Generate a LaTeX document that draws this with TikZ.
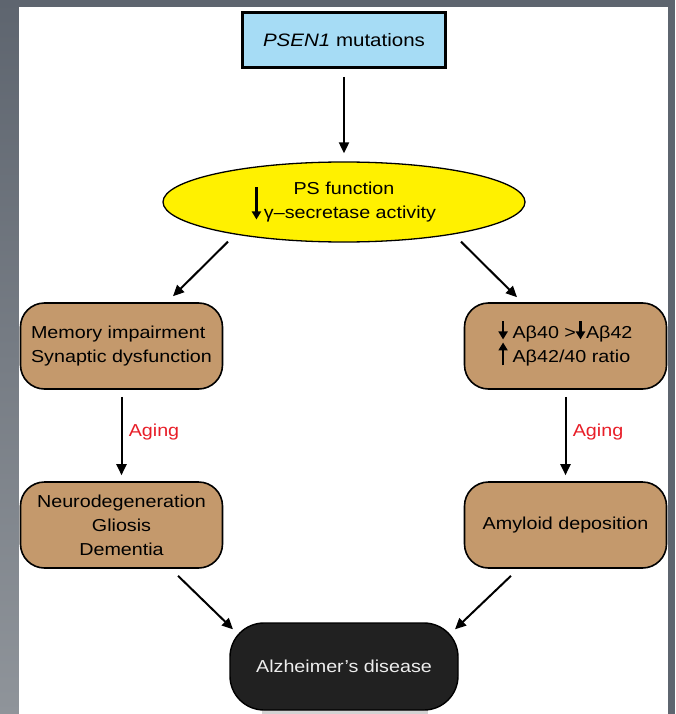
\documentclass[tikz,border=0pt]{standalone}
\usepackage{fontspec}
\setmainfont{Liberation Sans}[FakeStretch=1.14]
\usetikzlibrary{shapes.geometric,arrows.meta}
\definecolor{skyb}{RGB}{166,220,245}
\definecolor{psyellow}{RGB}{255,241,0}
\definecolor{boxtan}{RGB}{196,153,108}
\definecolor{agingred}{RGB}{232,30,40}
\definecolor{slate}{RGB}{94,101,111}
\definecolor{slatelight}{RGB}{143,148,154}
\definecolor{adblack}{RGB}{33,33,33}

% little arrows used inside the texts
\newcommand{\dnarr}[1]{\smash{\tikz[baseline=0pt] \draw [line width=2.2pt,-{Triangle[length=8pt,width=9pt]}] (0pt,#1) -- (0pt,-1pt);}}
\newcommand{\uparr}[1]{\smash{\tikz[baseline=0pt] \draw [line width=2.2pt,-{Triangle[length=8pt,width=9pt]}] (0pt,-3pt) -- (0pt,#1);}}

\begin{document}
\begin{tikzpicture}[x=1pt,y=-1pt,
  every node/.style={font=\fontsize{17.3}{24}\selectfont},
  arr/.style={line width=2pt,-{Triangle[length=11pt,width=10pt]}},
  brownbox/.style={draw,line width=1.6pt,fill=boxtan,rounded corners=24pt,
    minimum width=202pt,minimum height=86pt,inner sep=0pt},
  agetext/.style={text=agingred}]

% background
\fill [slate] (0,0) rectangle (675,714);
\shade [top color=slate,bottom color=slatelight] (0,0) rectangle (19,714);
\fill [white] (19,7) rectangle (668,714);

\node [draw,line width=2.6pt,fill=skyb,minimum width=203pt,minimum height=55pt,
  font=\fontsize{18}{24}\selectfont] (psen) at (344,40) {\textit{PSEN1} mutations};

\node [ellipse,draw,line width=1.3pt,fill=psyellow,minimum width=362pt,
  minimum height=80pt,inner sep=0pt,align=center] (psfun) at (344,202)
  {PS function\\\dnarr{31pt}\hspace{3pt}γ–secretase activity};

\node [brownbox,align=left] (memory) at (121.5,346) {Memory impairment\\Synaptic dysfunction};
\node [brownbox,align=left] (abeta) at (565.5,346)
  {\dnarr{17pt}\hspace{5pt}Aβ40 >\dnarr{17pt}\hspace{1pt}Aβ42\\\uparr{20pt}\hspace{5pt}Aβ42/40 ratio};
\node [brownbox,align=center] (neuro) at (121.5,525) {Neurodegeneration\\Gliosis\\Dementia};
\node [brownbox] (amyloid) at (565.5,525) {Amyloid deposition};

\fill [gray!35] (262,706) rectangle (428,714);
\node [draw,line width=1.4pt,fill=adblack,text=white!93!black,rounded corners=34pt,
  minimum width=228pt,minimum height=87pt] (alz) at (344,666.5) {Alzheimer’s disease};

\node [agetext] (ageL) at (154,432) {Aging};
\node [agetext] (ageR) at (598,432) {Aging};

\draw [arr,shorten <=8pt,shorten >=8pt] (psen) -- (psfun);
\draw [arr] ([xshift=-116pt,yshift=1pt]psfun.south) -- ([xshift=51.5pt,yshift=6pt]memory.north);
\draw [arr] ([xshift=117pt,yshift=1pt]psfun.south) -- ([xshift=-48.5pt,yshift=5pt]abeta.north);
\draw [arr,shorten <=7pt,shorten >=6pt] (memory) -- (neuro);
\draw [arr,shorten <=7pt,shorten >=6pt] (abeta) -- (amyloid);
\draw [arr] ([xshift=56.5pt,yshift=-7pt]neuro.south) -- ([xshift=-111pt,yshift=-7pt]alz.north);
\draw [arr] ([xshift=-54.5pt,yshift=-7pt]amyloid.south) -- ([xshift=111pt,yshift=-7pt]alz.north);

\end{tikzpicture}
\end{document}
